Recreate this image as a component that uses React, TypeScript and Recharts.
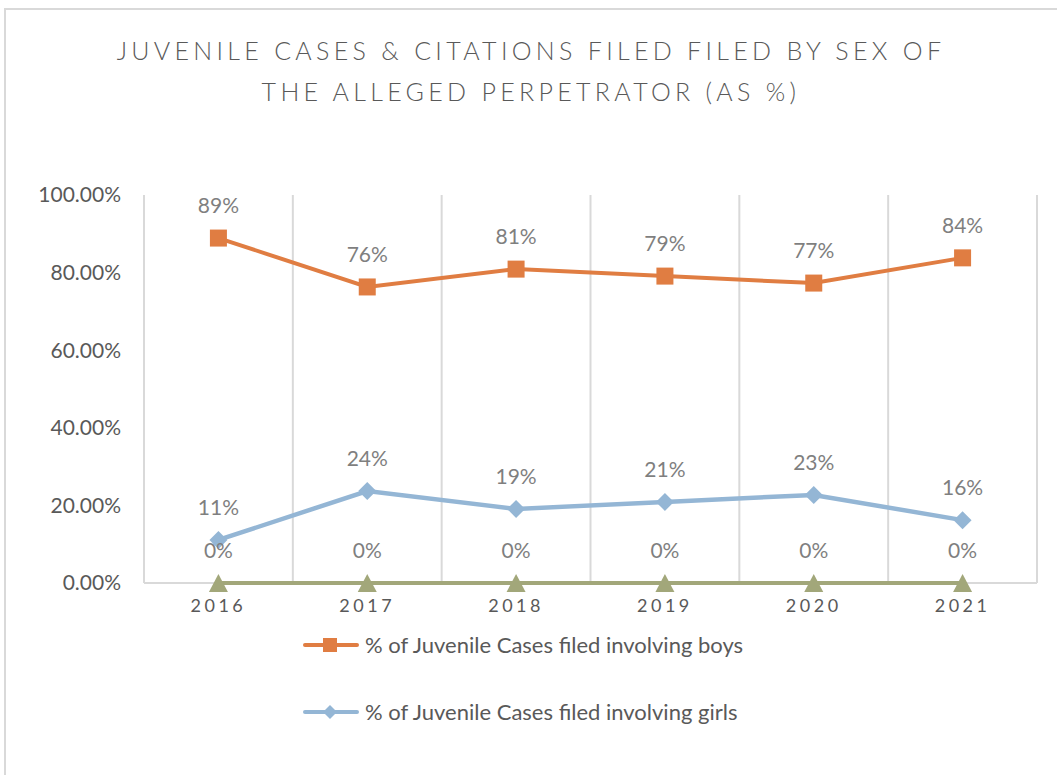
import React from 'react';
import {
  LineChart,
  Line,
  XAxis,
  YAxis,
  CartesianGrid,
  Legend,
  LabelList
} from 'recharts';

const YEARS = ['2016', '2017', '2018', '2019', '2020', '2021'];
const BOYS = [0.889, 0.763, 0.809, 0.791, 0.773, 0.838];
const GIRLS = [0.111, 0.237, 0.191, 0.209, 0.227, 0.162];
const OTHER = [0, 0, 0, 0, 0, 0];
const Y_TICKS = [0, 0.2, 0.4, 0.6, 0.8, 1];
const GRID_TICKS = [0, 1, 2, 3, 4, 5, 6];

const BOYS_NAME = '% of Juvenile Cases filed involving boys';
const GIRLS_NAME = '% of Juvenile Cases filed involving girls';
const OTHER_NAME = '% of Juvenile Cases filed involving other';

const ORANGE = '#E07D42';
const BLUE = '#94B6D5';
const GREEN = '#A2A77A';
const FONT = 'Lato, "Open Sans", sans-serif';

// category i is drawn at the middle of its slot, slots run 0..6
const data = YEARS.map((year, i) => ({
  pos: i + 0.5,
  year,
  boys: BOYS[i],
  girls: GIRLS[i],
  other: OTHER[i]
}));

const pct = (v: number) => `${Math.round(v * 100)}%`;

const SquareDot = (props: any) => {
  const { cx, cy, index } = props;
  if (cx == null || cy == null) return null;
  return <rect key={`sq-${index}`} x={cx - 8.5} y={cy - 8.5} width={17} height={17} fill={ORANGE} />;
};

const DiamondDot = (props: any) => {
  const { cx, cy, index } = props;
  if (cx == null || cy == null) return null;
  const r = 9;
  return (
    <path
      key={`di-${index}`}
      d={`M${cx},${cy - r}L${cx + r},${cy}L${cx},${cy + r}L${cx - r},${cy}Z`}
      fill={BLUE}
    />
  );
};

const TriangleDot = (props: any) => {
  const { cx, cy, index } = props;
  if (cx == null || cy == null) return null;
  return (
    <path
      key={`tr-${index}`}
      d={`M${cx},${cy - 9}L${cx + 9.5},${cy + 9}L${cx - 9.5},${cy + 9}Z`}
      fill={GREEN}
    />
  );
};

const renderLabel = (props: any) => {
  const { x, y, value, index } = props;
  return (
    <text
      key={`lb-${index}`}
      x={x}
      y={y - 25}
      textAnchor="middle"
      fill="#7F7F7F"
      fontSize={21}
      fontFamily={FONT}
    >
      {pct(value)}
    </text>
  );
};

const LegendContent = () => {
  const items = [
    { name: BOYS_NAME, color: ORANGE, kind: 'square' },
    { name: GIRLS_NAME, color: BLUE, kind: 'diamond' }
  ];
  return (
    <div>
      {items.map(item => (
        <div key={item.name} style={{ display: 'flex', alignItems: 'center', height: 33, marginBottom: 34 }}>
          <svg width={58} height={20} style={{ marginRight: 4 }}>
            <line x1={2} y1={10} x2={54} y2={10} stroke={item.color} strokeWidth={4} strokeLinecap="round" />
            {item.kind === 'square' ? (
              <rect x={20} y={3} width={14} height={14} fill={item.color} />
            ) : (
              <path d="M27,3L34,10L27,17L20,10Z" fill={item.color} />
            )}
          </svg>
          <span style={{ fontFamily: FONT, fontSize: 22, color: '#595959', whiteSpace: 'nowrap' }}>{item.name}</span>
        </div>
      ))}
    </div>
  );
};

export default function App() {
  return (
    <div style={{ position: 'absolute', left: 0, top: 0, width: 1057, height: 775, overflow: 'hidden', background: '#fff' }}>
      <div
        style={{
          position: 'absolute',
          left: 4,
          top: 8,
          width: 1100,
          height: 800,
          border: '2px solid #D9D9D9',
          boxSizing: 'border-box'
        }}
      />
      <div
        style={{
          position: 'absolute',
          left: 4,
          width: 1054,
          top: 30,
          textAlign: 'center',
          fontFamily: FONT,
          fontSize: 25,
          fontWeight: 300,
          letterSpacing: 4.3,
          color: '#595959',
          lineHeight: '41px'
        }}
      >
        JUVENILE CASES &amp; CITATIONS FILED FILED BY SEX OF
        <br />
        THE ALLEGED PERPETRATOR (AS %)
      </div>
      <div style={{ position: 'absolute', left: 0, top: 0 }}>
        <LineChart
          width={1057}
          height={775}
          data={data}
          margin={{ top: 195, right: 20, bottom: 150, left: 0 }}
        >
          <CartesianGrid
            xAxisId="grid"
            vertical
            horizontal
            horizontalCoordinatesGenerator={({ offset }: any) => [offset.top + offset.height]}
            stroke="#D9D9D9"
            strokeWidth={2}
          />
          <XAxis
            xAxisId="grid"
            type="number"
            dataKey="pos"
            domain={[0, 6]}
            ticks={GRID_TICKS}
            hide
          />
          <XAxis
            dataKey="pos"
            type="number"
            domain={[0, 6]}
            ticks={data.map(d => d.pos)}
            tickFormatter={(v: number) => YEARS[Math.floor(v)]}
            interval={0}
            axisLine={false}
            tickLine={false}
            tickSize={0}
            tickMargin={16}
            height={42}
            tick={{ fill: '#595959', fontSize: 18, fontFamily: FONT, letterSpacing: 3.5 }}
          />
          <YAxis
            domain={[0, 1]}
            ticks={Y_TICKS}
            tickFormatter={(v: number) => `${(v * 100).toFixed(2)}%`}
            axisLine={false}
            tickLine={false}
            tickSize={0}
            tickMargin={23}
            width={144}
            tick={{ fill: '#595959', fontSize: 21, fontFamily: FONT }}
          />
          <Legend
            layout="horizontal"
            verticalAlign="middle"
            content={<LegendContent />}
            wrapperStyle={{ position: 'absolute', left: 303, top: 628, width: 600 }}
          />
          <Line
            name={OTHER_NAME}
            dataKey="other"
            stroke={GREEN}
            strokeWidth={4}
            dot={TriangleDot}
            activeDot={false}
            legendType="none"
            isAnimationActive={false}
          >
            <LabelList dataKey="other" content={renderLabel} />
          </Line>
          <Line
            name={GIRLS_NAME}
            dataKey="girls"
            stroke={BLUE}
            strokeWidth={4.5}
            dot={DiamondDot}
            activeDot={false}
            isAnimationActive={false}
          >
            <LabelList dataKey="girls" content={renderLabel} />
          </Line>
          <Line
            name={BOYS_NAME}
            dataKey="boys"
            stroke={ORANGE}
            strokeWidth={4}
            dot={SquareDot}
            activeDot={false}
            isAnimationActive={false}
          >
            <LabelList dataKey="boys" content={renderLabel} />
          </Line>
        </LineChart>
      </div>
    </div>
  );
}
